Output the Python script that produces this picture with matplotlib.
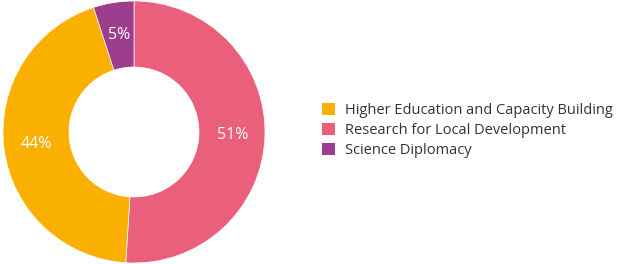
import matplotlib
matplotlib.use("Agg")
import matplotlib.pyplot as plt
from matplotlib.patches import Patch

categories = ["Higher Education and Capacity Building", "Research for Local Development", "Science Diplomacy"]
values = [44, 51, 5]
colors = ["#F9B000", "#EA5F79", "#9C3D8D"]

plt.rcParams['font.family'] = ['Open Sans', 'DejaVu Sans']

fig = plt.figure(figsize=(6.17, 2.64), dpi=100)
ax = fig.add_axes([(134 - 132) / 617, 0, 264 / 617, 1])

# draw order: clockwise from top: Research, Higher Ed, Science
order = [1, 0, 2]
vals = [values[i] for i in order]
cols = [colors[i] for i in order]
wedges, texts, autotexts = ax.pie(
    vals, colors=cols, startangle=90, counterclock=False, radius=131 / 132,
    autopct=lambda p: f"{p:.0f}%", pctdistance=0.75,
    wedgeprops=dict(width=0.5, edgecolor="white", linewidth=0.5),
    textprops=dict(color="white", fontsize=11.5))
ax.set_xlim(-1, 1)
ax.set_ylim(-1, 1)
ax.set_aspect("equal")
ax.axis("off")

handles = [Patch(facecolor=c, edgecolor="none") for c in colors]
fig.legend(handles, categories, loc="center left", bbox_to_anchor=(309 / 617, 0.505),
           frameon=False, fontsize=10.5, handlelength=0.9, handleheight=0.9,
           handletextpad=0.7, labelspacing=0.35, labelcolor="#333333")

fig.savefig("out.png", dpi=100)
